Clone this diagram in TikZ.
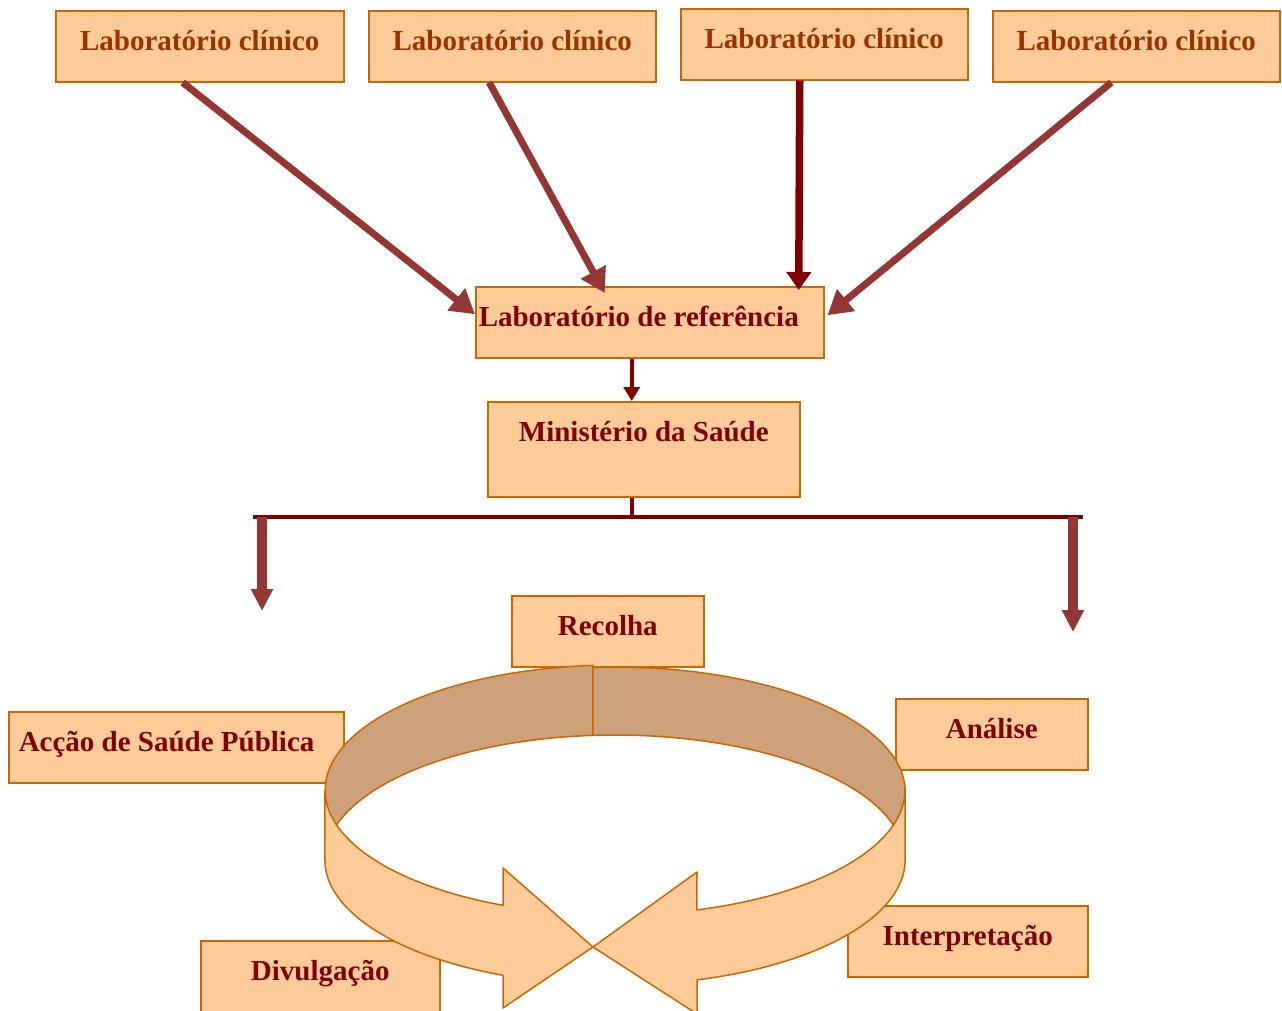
\documentclass[tikz,border=0pt]{standalone}
\usepackage{fontspec}
\setmainfont{Liberation Serif}
\usetikzlibrary{arrows.meta}

\definecolor{boxfill}{RGB}{255,204,153}
\definecolor{boxline}{RGB}{204,102,0}
\definecolor{ringback}{RGB}{205,162,122}
\definecolor{labtext}{RGB}{153,51,0}
\definecolor{darkred}{RGB}{128,0,0}
\definecolor{arrowred}{RGB}{148,54,52}

\tikzset{
	labbox/.style = {draw = boxline, fill = boxfill, line width = 1.5pt, inner sep = 0pt, text height = 40pt, anchor = north west, font = \fontsize{29}{34}\selectfont\bfseries, text = darkred},
	diagarrow/.style = {arrowred, line width = 7pt, -{Triangle[length = 24pt, width = 27pt]}},
	downarrow/.style = {darkred, line width = 7.5pt, -{Triangle[length = 18pt, width = 24pt]}},
	thinarrow/.style = {darkred, line width = 4pt, -{Triangle[length = 14pt, width = 16pt]}},
	busline/.style = {darkred, line width = 4.5pt},
	droparrow/.style = {arrowred, line width = 9.5pt, -{Triangle[length = 22pt, width = 21pt]}},
	ringline/.style = {draw = boxline, line width = 1.5pt, line join = round, x radius = 290, y radius = 125}
}

\begin{document}
\begin{tikzpicture}[x = 1pt, y = -1pt]
	\useasboundingbox (0, 0) rectangle (1282, 1010);

	\node [labbox, text = labtext, minimum width = 288pt, text depth = 31pt] (lab1) at (55, 10) {Laboratório clínico};
	\node [labbox, text = labtext, minimum width = 287pt, text depth = 31pt] (lab2) at (368, 10) {Laboratório clínico};
	\node [labbox, text = labtext, minimum width = 287pt, text depth = 31pt] (lab3) at (680, 8) {Laboratório clínico};
	\node [labbox, text = labtext, minimum width = 287pt, text depth = 31pt] (lab4) at (992, 10) {Laboratório clínico};
	\node [labbox, inner xsep = 3pt, text width = 342pt, align = flush left, text depth = 31pt] (ref) at (475, 286) {Laboratório de referência};
	\node [labbox, minimum width = 312pt, text depth = 55pt] (min) at (487, 401) {Ministério da Saúde};
	\node [labbox, minimum width = 192pt, text depth = 31pt] (recolha) at (511, 595) {Recolha};
	\node [labbox, inner xsep = 10pt, text width = 315pt, align = flush left, text depth = 31pt] (accao) at (8, 711) {Acção de Saúde Pública};
	\node [labbox, minimum width = 192pt, text depth = 31pt] (analise) at (895, 698) {Análise};
	\node [labbox, minimum width = 240pt, text depth = 31pt] (interp) at (847, 905) {Interpretação};
	\node [labbox, minimum width = 239pt, text depth = 40pt] (divulg) at (200, 940) {Divulgação};

	\draw [diagarrow] ([xshift = -17pt] lab1.south) -- ([yshift = 8pt] ref.west);
	\draw [diagarrow] ([xshift = -23pt] lab2.south) -- ([xshift = -45pt, yshift = -7pt] ref.north);
	\draw [downarrow] ([xshift = -24.5pt] lab3.south) -- ([xshift = 149pt, yshift = -4pt] ref.north);
	\draw [diagarrow] ([xshift = -25pt] lab4.south) -- ([xshift = 3pt, yshift = 7pt] ref.east);
	\draw [thinarrow] ([xshift = -18pt] ref.south) -- ([xshift = -12pt] min.north);

	\coordinate (busl) at (253, 517);
	\coordinate (busr) at (1083, 517);
	\coordinate (dropl) at (262, 611);
	\coordinate (dropr) at (1073, 632);
	\draw [busline] ([xshift = -12pt] min.south) -- ([xshift = -12pt] min.south |- busl);
	\draw [busline] (busl) -- (busr);
	\draw [droparrow] (dropl |- busl) -- (dropl);
	\draw [droparrow] (dropr |- busr) -- (dropr);

	\filldraw [ringline, fill = ringback] (593, 665.4) arc [start angle = 265.6, end angle = 180] -- (325, 860) arc [start angle = 180, end angle = 265.6] -- cycle;
	\filldraw [ringline, fill = ringback] (593, 667.4) arc [start angle = 265.6, end angle = 360] -- (905, 860) arc [start angle = 0, end angle = -94.4] -- cycle;
	\filldraw [ringline, fill = boxfill] (325, 790) arc [start angle = 180, end angle = 112.7] -- (503, 868) -- (593, 947) -- (503, 1008) -- (503, 975.3) arc [start angle = 112.7, end angle = 180] -- cycle;
	\filldraw [ringline, fill = boxfill] (905, 790) arc [start angle = 0, end angle = 73.6] -- (697, 872) -- (593, 947) -- (697, 1014) -- (697, 979.9) arc [start angle = 73.6, end angle = 0] -- cycle;
\end{tikzpicture}
\end{document}
